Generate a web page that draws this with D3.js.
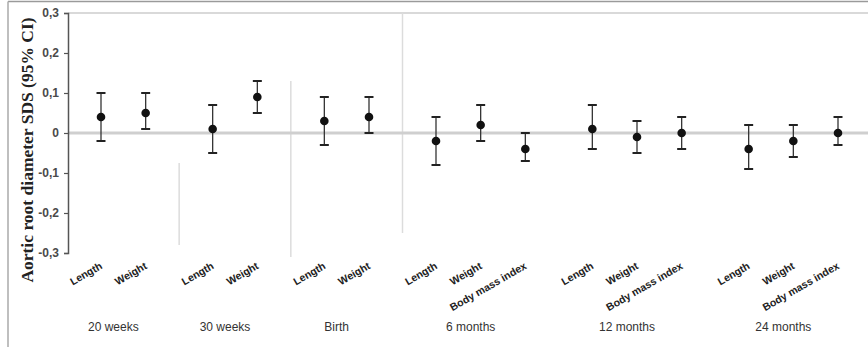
<!DOCTYPE html>
<html><head><meta charset="utf-8">
<script src="https://cdn.jsdelivr.net/npm/d3@7"></script>
<style>html,body{margin:0;padding:0;background:#fff;}svg{display:block;}</style>
</head><body>
<svg id="chart" width="868" height="347"></svg>
<script>
const groups = ["20 weeks", "30 weeks", "Birth", "6 months", "12 months", "24 months"];
const measures = [
  ["Length", "Weight"],
  ["Length", "Weight"],
  ["Length", "Weight"],
  ["Length", "Weight", "Body mass index"],
  ["Length", "Weight", "Body mass index"],
  ["Length", "Weight", "Body mass index"]
];
const estimate = [0.04, 0.05, 0.01, 0.09, 0.03, 0.04, -0.02, 0.02, -0.04, 0.01, -0.01, 0.00, -0.04, -0.02, 0.00];
const lower    = [-0.02, 0.01, -0.05, 0.05, -0.03, 0.00, -0.08, -0.02, -0.07, -0.04, -0.05, -0.04, -0.09, -0.06, -0.03];
const upper    = [0.10, 0.10, 0.07, 0.13, 0.09, 0.09, 0.04, 0.07, 0.00, 0.07, 0.03, 0.04, 0.02, 0.02, 0.04];
const yTicks = [0.3, 0.2, 0.1, 0, -0.1, -0.2, -0.3];
const yTitle = "Aortic root diameter SDS (95% CI)";

// build flat items with positional index (gap of 1.5 between groups)
const items = [];
const groupInfo = [];
let pos = 0, k = 0;
groups.forEach((g, gi) => {
  const start = pos;
  measures[gi].forEach((m, mi) => {
    items.push({group: g, measure: m, pos: pos, est: estimate[k], lo: lower[k], hi: upper[k]});
    k++;
    if (mi < measures[gi].length - 1) pos += 1;
  });
  groupInfo.push({name: g, start: start, end: pos});
  pos += 1.5;
});
const lastPos = items[items.length - 1].pos;

const svg = d3.select("#chart");
const x = d3.scaleLinear().domain([0, lastPos]).range([101, 838]);
const y = d3.scaleLinear().domain([-0.3, 0.3]).range([253, 13]);
const axisX = 68;

// frame
svg.append("line").attr("x1", 8).attr("x2", 868).attr("y1", 1.5).attr("y2", 1.5)
  .attr("stroke", "#9a9a9a").attr("stroke-width", 1.5);
svg.append("line").attr("x1", 8).attr("x2", 8).attr("y1", 1.5).attr("y2", 347)
  .attr("stroke", "#aaa").attr("stroke-width", 1.5);
svg.append("line").attr("x1", axisX).attr("x2", 868).attr("y1", y(0.3)).attr("y2", y(0.3))
  .attr("stroke", "#d9d9d9").attr("stroke-width", 2);

// group separators (faint panel edges)
const sepExt = [[-0.075, -0.28], [0.13, -0.31], [0.3, -0.25]];
for (let i = 0; i < 3; i++) {
  const sx = (x(groupInfo[i].end) + x(groupInfo[i + 1].start)) / 2;
  svg.append("line").attr("x1", sx).attr("x2", sx)
    .attr("y1", y(sepExt[i][0])).attr("y2", y(sepExt[i][1]))
    .attr("stroke", "#dcdcdc").attr("stroke-width", 1.5);
}

// zero line
svg.append("line").attr("x1", axisX).attr("x2", 868).attr("y1", y(0)).attr("y2", y(0))
  .attr("stroke", "#cfcfcf").attr("stroke-width", 3);

// y axis
const fmt = d => d === 0 ? "0" : d.toFixed(1).replace(".", ",");
const yAxis = d3.axisLeft(y).tickValues(yTicks).tickFormat(fmt).tickSize(4).tickPadding(5);
const ga = svg.append("g").attr("transform", `translate(${axisX},0)`).call(yAxis);
ga.select(".domain").attr("stroke", "#555").attr("stroke-width", 1.5);
ga.selectAll(".tick line").attr("stroke", "#555").attr("stroke-width", 1.2);
ga.selectAll(".tick text").attr("font-family", "Liberation Sans, Arial, sans-serif")
  .attr("font-size", 12).attr("font-weight", "bold").attr("fill", "#4a4a4a");

// y title
svg.append("text")
  .attr("transform", `translate(33,150) rotate(-90)`)
  .attr("text-anchor", "middle")
  .attr("font-family", "Liberation Serif, Times New Roman, serif")
  .attr("font-weight", "bold").attr("font-size", 17.5).attr("fill", "#222")
  .text(yTitle);

// error bars
const capW = 4.5;
const eb = svg.append("g");
items.forEach(d => {
  const cx = x(d.pos);
  eb.append("line").attr("x1", cx).attr("x2", cx).attr("y1", y(d.hi)).attr("y2", y(d.lo))
    .attr("stroke", "#333").attr("stroke-width", 1.3);
  [d.hi, d.lo].forEach(v => {
    eb.append("line").attr("x1", cx - capW).attr("x2", cx + capW).attr("y1", y(v)).attr("y2", y(v))
      .attr("stroke", "#222").attr("stroke-width", 2);
  });
});
svg.append("g").selectAll("circle").data(items).join("circle")
  .attr("cx", d => x(d.pos)).attr("cy", d => y(d.est)).attr("r", 4.3).attr("fill", "#111");

// measure labels (rotated)
svg.append("g").selectAll("text").data(items).join("text")
  .attr("transform", d => `translate(${x(d.pos) + 2},${268}) rotate(-30)`)
  .attr("text-anchor", "end")
  .attr("font-family", "Liberation Sans, Arial, sans-serif")
  .attr("font-weight", "bold").attr("font-size", 10.5).attr("fill", "#222")
  .text(d => d.measure);

// group labels
svg.append("g").selectAll("text").data(groupInfo).join("text")
  .attr("x", d => (x(d.start) + x(d.end)) / 2 - 10)
  .attr("y", 331)
  .attr("text-anchor", "middle")
  .attr("font-family", "Liberation Sans, Arial, sans-serif")
  .attr("font-size", 12).attr("fill", "#333")
  .text(d => d.name);
</script>
</body></html>
